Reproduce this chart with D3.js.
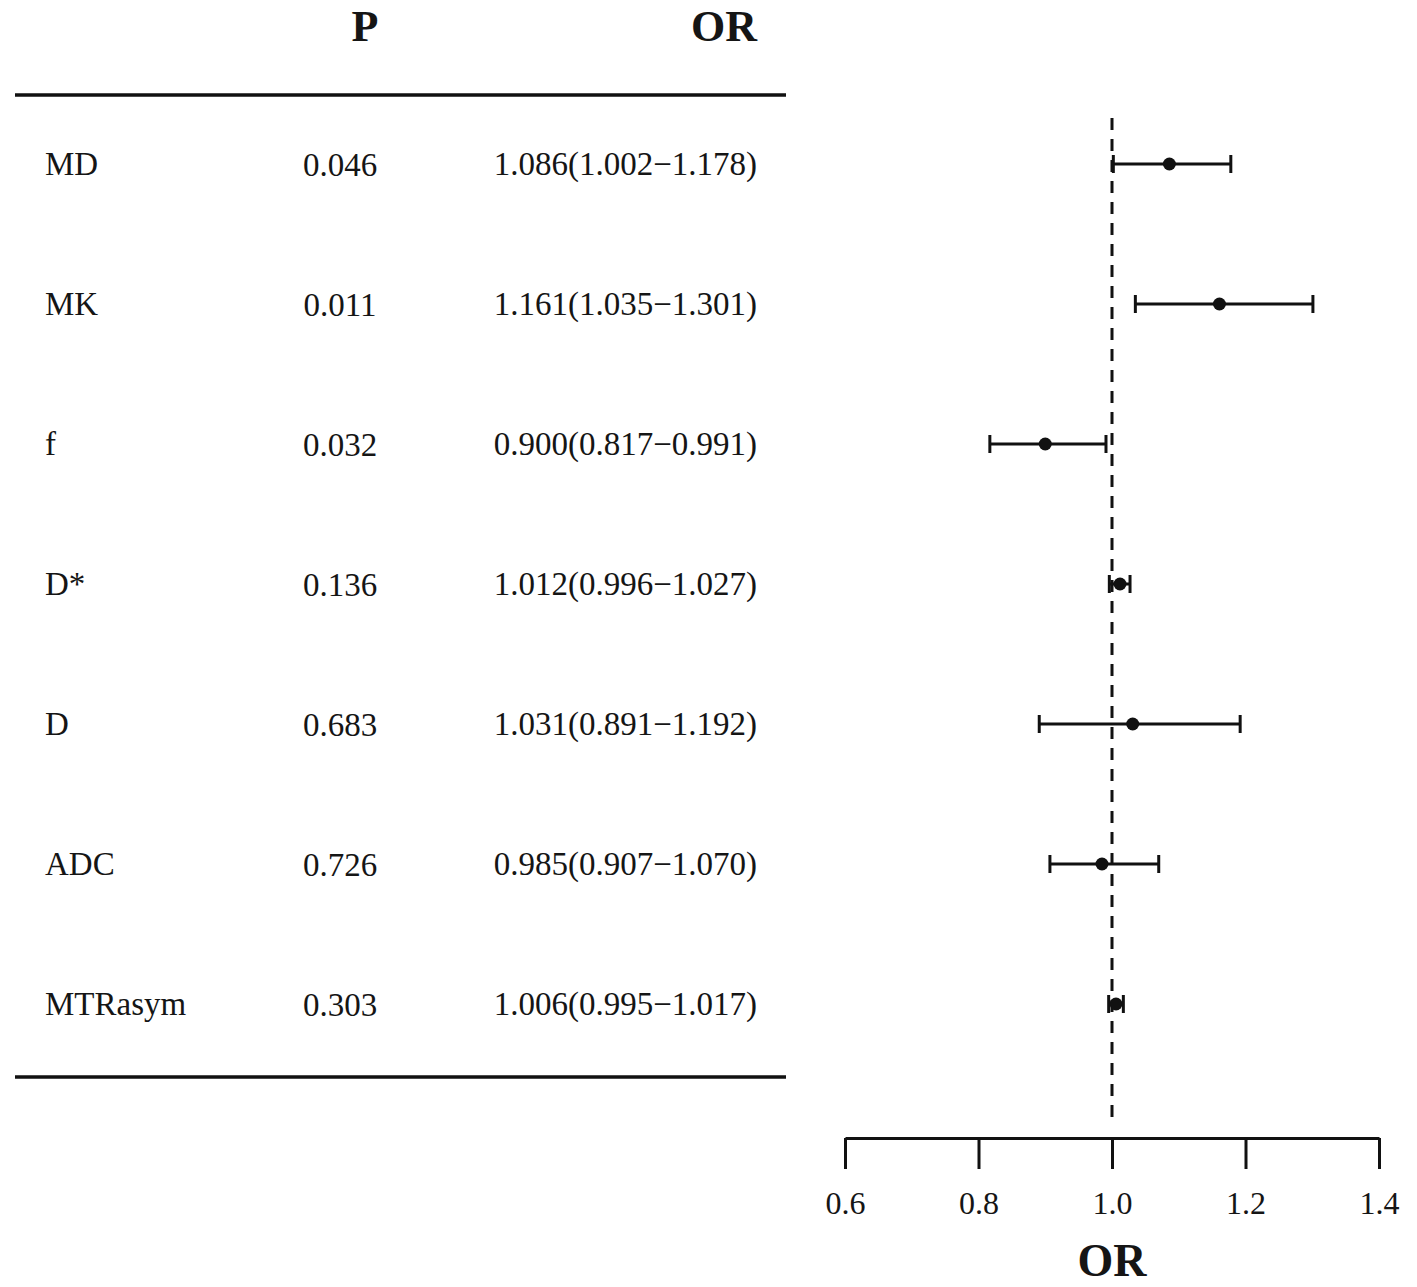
<!DOCTYPE html>
<html>
<head>
<meta charset="utf-8">
<script src="https://cdn.jsdelivr.net/npm/d3@7"></script>
<style>
html,body{margin:0;padding:0;background:#fff;}
svg{display:block;}
text{font-family:"Liberation Serif","DejaVu Serif",serif;fill:#151515;}
</style>
</head>
<body>
<svg id="chart" width="1417" height="1287"></svg>
<script>
const variables = ["MD","MK","f","D*","D","ADC","MTRasym"];
const pValues = ["0.046","0.011","0.032","0.136","0.683","0.726","0.303"];
const orValues = [1.086,1.161,0.900,1.012,1.031,0.985,1.006];
const ciLower = [1.002,1.035,0.817,0.996,0.891,0.907,0.995];
const ciUpper = [1.178,1.301,0.991,1.027,1.192,1.070,1.017];
const xTicks = [0.6,0.8,1.0,1.2,1.4];

const svg = d3.select("#chart");
const x = d3.scaleLinear().domain([0.6,1.4]).range([845,1379]);
const y = d3.scalePoint().domain(variables).range([164,1004]);

// table header
svg.append("text").attr("x",365).attr("y",41).attr("text-anchor","middle")
  .attr("font-size",44).attr("font-weight","bold").text("P");
svg.append("text").attr("x",757).attr("y",41).attr("text-anchor","end")
  .attr("font-size",44).attr("font-weight","bold").text("OR");

// table rules
svg.append("line").attr("x1",15).attr("x2",786).attr("y1",95).attr("y2",95)
  .attr("stroke","#111").attr("stroke-width",3.5);
svg.append("line").attr("x1",15).attr("x2",786).attr("y1",1077).attr("y2",1077)
  .attr("stroke","#111").attr("stroke-width",3.5);

const fmt = d3.format(".3f");
const rows = svg.append("g").selectAll("g").data(variables).join("g")
  .attr("transform",d=>`translate(0,${y(d)})`);
rows.append("text").attr("x",45).attr("y",11).attr("font-size",33).text(d=>d);
rows.append("text").attr("x",340).attr("y",12).attr("text-anchor","middle")
  .attr("font-size",33).text((d,i)=>pValues[i]);
rows.append("text").attr("x",757).attr("y",11).attr("text-anchor","end")
  .attr("font-size",33)
  .text((d,i)=>`${fmt(orValues[i])}(${fmt(ciLower[i])}\u2212${fmt(ciUpper[i])})`);

// reference dashed line
svg.append("line").attr("x1",x(1)).attr("x2",x(1)).attr("y1",118).attr("y2",1122)
  .attr("stroke","#111").attr("stroke-width",3).attr("stroke-dasharray","12,9");

// error bars
const bars = svg.append("g").selectAll("g").data(variables).join("g")
  .attr("transform",d=>`translate(0,${y(d)})`);
bars.append("line").attr("x1",(d,i)=>x(ciLower[i])).attr("x2",(d,i)=>x(ciUpper[i]))
  .attr("y1",0).attr("y2",0).attr("stroke","#111").attr("stroke-width",3);
bars.append("line").attr("x1",(d,i)=>x(ciLower[i])).attr("x2",(d,i)=>x(ciLower[i]))
  .attr("y1",-9).attr("y2",9).attr("stroke","#111").attr("stroke-width",3);
bars.append("line").attr("x1",(d,i)=>x(ciUpper[i])).attr("x2",(d,i)=>x(ciUpper[i]))
  .attr("y1",-9).attr("y2",9).attr("stroke","#111").attr("stroke-width",3);
bars.append("circle").attr("cx",(d,i)=>x(orValues[i])).attr("cy",0).attr("r",6.5)
  .attr("fill","#111");

// x axis
const axis = d3.axisBottom(x).tickValues(xTicks).tickFormat(d3.format(".1f"))
  .tickSize(31).tickSizeOuter(0).tickPadding(22);
const ag = svg.append("g").attr("transform","translate(0,1138)").call(axis);
ag.select(".domain").attr("stroke","#111").attr("stroke-width",3);
ag.selectAll(".tick line").attr("stroke","#111").attr("stroke-width",3);
ag.selectAll(".tick text").attr("font-family","Liberation Serif, serif")
  .attr("font-size",32).attr("fill","#222");

svg.append("text").attr("x",x(1)).attr("y",1276).attr("text-anchor","middle")
  .attr("font-size",46).attr("font-weight","bold").text("OR");
</script>
</body>
</html>
